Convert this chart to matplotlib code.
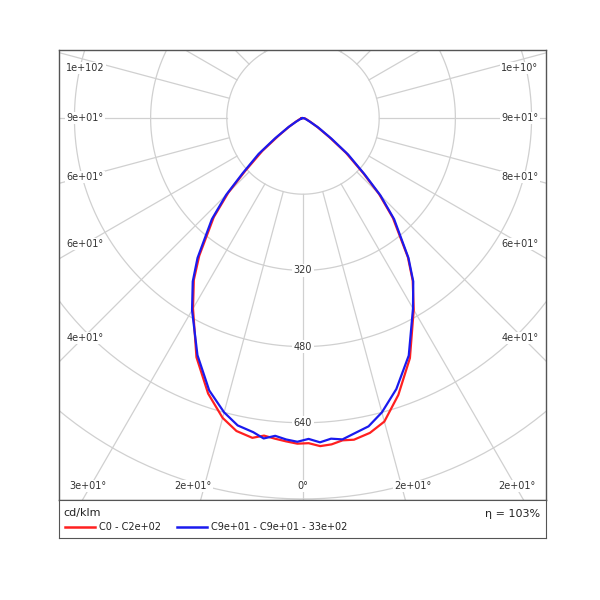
import numpy as np
import matplotlib.pyplot as plt

# polar intensity, angle from nadir (deg), cd/klm
ang_red = [-80, -68, -62, -58, -54, -51, -47.5, -45, -42, -37, -34, -30, -24, -19, -15, -12, -9, -7, -5, -3, -1,
           1, 3, 5, 7, 9, 12, 15, 19, 24, 30, 34, 37, 42, 45, 47.5, 51, 54, 58, 62, 68, 80]
r_red = [4, 9, 18, 34, 64, 110, 165, 222, 280, 362, 410, 462, 550, 612, 652, 672, 680, 672, 676, 680, 684,
         683, 690, 688, 682, 684, 676, 660, 615, 552, 465, 412, 366, 282, 226, 172, 116, 68, 35, 18, 9, 4]
ang_blue = [-80, -68, -62, -58, -54, -51, -47.5, -45, -42, -37, -34, -30, -24, -19, -15, -12, -9, -7, -5, -3, -1,
            1, 3, 5, 7, 9, 12, 15, 19, 24, 30, 34, 37, 42, 45, 47.5, 51, 54, 58, 62, 68, 80]
r_blue = [2, 6, 16, 36, 72, 120, 172, 228, 286, 368, 414, 466, 545, 605, 640, 660, 668, 678, 670, 676, 680,
          674, 682, 676, 680, 672, 662, 640, 602, 546, 462, 414, 368, 286, 230, 176, 122, 74, 38, 16, 6, 2]

rings = [160, 320, 480, 640, 800, 960, 1120, 1280]
ring_labels = {320: '320', 480: '480', 640: '640'}

left_labels = ['1e+102', '9e+01°', '6e+01°', '6e+01°', '4e+01°']
right_labels = ['1e+10°', '9e+01°', '8e+01°', '6e+01°', '4e+01°']
side_label_py = [68, 118, 177, 244, 338]
bottom_labels = ['3e+01°', '2e+01°', '0°', '2e+01°', '2e+01°']
bottom_label_px = [88, 193, 303, 413, 517]

S = 2.1  # cd per pixel
cx, cy = 303, 118

def px(x, y):
    return (x - cx) * S, (cy - y) * S

fig = plt.figure(figsize=(6, 6), dpi=100)
ax = fig.add_axes([59 / 600, 1 - 500 / 600, 487 / 600, 450 / 600])
ax.set_xlim(px(59, 0)[0], px(546, 0)[0])
ax.set_ylim(px(0, 500)[1], px(0, 50)[1])
ax.set_xticks([])
ax.set_yticks([])
for s in ax.spines.values():
    s.set_color('#555555')
    s.set_linewidth(1)

grid = '#d0d0d0'
t = np.linspace(0, 2 * np.pi, 400)
for r in rings:
    ax.plot(r * np.sin(t), r * np.cos(t), color=grid, lw=0.9, zorder=1)
for a in range(0, 360, 15):
    a_r = np.radians(a)
    ax.plot([160 * np.sin(a_r), 1600 * np.sin(a_r)], [-160 * np.cos(a_r), -1600 * np.cos(a_r)],
            color=grid, lw=0.9, zorder=1)

for r, lab in ring_labels.items():
    ax.text(0, -r, lab, ha='center', va='center', fontsize=7, color='#333333',
            bbox=dict(facecolor='white', edgecolor='none', pad=1), zorder=2)

for lab, py in zip(left_labels, side_label_py):
    ax.text(*px(85, py), lab, ha='center', va='center', fontsize=7, color='#333333',
            bbox=dict(facecolor='white', edgecolor='none', pad=1), zorder=2)
for lab, py in zip(right_labels, side_label_py):
    ax.text(*px(520, py), lab, ha='center', va='center', fontsize=7, color='#333333',
            bbox=dict(facecolor='white', edgecolor='none', pad=1), zorder=2)
for lab, pxx in zip(bottom_labels, bottom_label_px):
    ax.text(*px(pxx, 486), lab, ha='center', va='center', fontsize=7, color='#333333',
            bbox=dict(facecolor='white', edgecolor='none', pad=1), zorder=2)

for ang, r, c in [(ang_red, r_red, '#ff2020'), (ang_blue, r_blue, '#1a1aee')]:
    a = np.radians(ang)
    x = np.array(r) * np.sin(a)
    y = -np.array(r) * np.cos(a)
    ax.plot(np.append(x, x[0]), np.append(y, y[0]), color=c, lw=1.6, zorder=3)

# legend strip
lax = fig.add_axes([59 / 600, 1 - 538 / 600, 487 / 600, 38 / 600])
lax.set_xlim(59, 546)
lax.set_ylim(538, 500)
lax.set_xticks([])
lax.set_yticks([])
for s in lax.spines.values():
    s.set_color('#555555')
lax.text(63, 513, 'cd/klm', fontsize=8, va='center', color='#222222')
lax.plot([65, 95], [527, 527], color='#ff2020', lw=1.8)
lax.text(99, 527, 'C0 - C2e+02', fontsize=7, va='center', color='#222222')
lax.plot([177, 207], [527, 527], color='#1a1aee', lw=1.8)
lax.text(211, 527, 'C9e+01 - C9e+01 - 33e+02', fontsize=7, va='center', color='#222222')
lax.text(540, 514, 'η = 103%', fontsize=8, va='center', ha='right', color='#222222')

fig.savefig('out.png', dpi=100)
